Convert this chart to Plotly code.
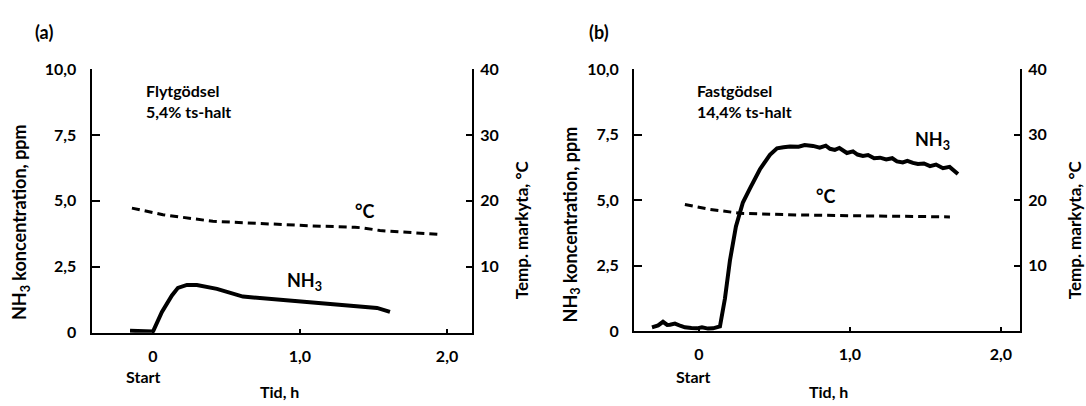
import plotly.graph_objects as go

# ---------------- data ----------------
# Panel (a) Flytgödsel
t_a_nh3 = [-0.156, -0.08, 0.0, 0.061, 0.129, 0.170, 0.231, 0.299, 0.435, 0.612, 0.844, 1.068, 1.293, 1.524, 1.612]
nh3_a   = [0.07, 0.06, 0.04, 0.79, 1.41, 1.70, 1.81, 1.81, 1.66, 1.37, 1.26, 1.16, 1.05, 0.94, 0.79]
t_a_temp = [-0.143, 0.068, 0.408, 0.748, 1.088, 1.374, 1.429, 1.544, 1.769, 1.952]
temp_a   = [18.9, 17.9, 16.9, 16.5, 16.2, 16.0, 15.9, 15.5, 15.2, 14.9]

# Panel (b) Fastgödsel
t_b_nh3 = [-0.311, -0.27, -0.238, -0.21, -0.192, -0.159, -0.12, -0.093, -0.05, -0.013, 0.020, 0.06,
           0.093, 0.139, 0.172, 0.205, 0.245, 0.291, 0.338, 0.404, 0.470, 0.517, 0.56, 0.603, 0.66,
           0.70, 0.755, 0.80, 0.84, 0.868, 0.90, 0.93, 0.98, 1.02, 1.05, 1.086, 1.12, 1.16, 1.199,
           1.24, 1.28, 1.311, 1.35, 1.38, 1.417, 1.45, 1.49, 1.530, 1.57, 1.616, 1.66, 1.69, 1.715]
nh3_b   = [0.15, 0.22, 0.36, 0.24, 0.25, 0.29, 0.20, 0.15, 0.12, 0.11, 0.15, 0.10,
           0.11, 0.18, 1.24, 2.69, 4.00, 4.91, 5.45, 6.18, 6.73, 6.98, 7.02, 7.05, 7.04,
           7.10, 7.07, 7.00, 7.08, 6.96, 6.92, 6.99, 6.80, 6.86, 6.74, 6.69, 6.72, 6.60, 6.62,
           6.55, 6.60, 6.48, 6.44, 6.50, 6.42, 6.38, 6.40, 6.30, 6.36, 6.22, 6.27, 6.12, 6.00]
t_b_temp = [-0.093, 0.073, 0.272, 0.649, 1.086, 1.662]
temp_b   = [19.35, 18.6, 18.0, 17.75, 17.6, 17.45]

# tick labels
x_tickvals = [0, 1, 2]
x_ticktext = ["0", "1,0", "2,0"]
yl_tickvals = [0, 2.5, 5, 7.5, 10]
yl_ticktext = ["0", "2,5", "5,0", "7,5", "10,0"]
yr_tickvals = [10, 20, 30, 40]
yr_ticktext = ["10", "20", "30", "40"]

W, H = 1086, 406
FONT = "Lato"
FS = 16
WEIGHT = "bold"


def px(x):
    return x / W


def py(y):
    return 1 - y / H


fig = go.Figure()

nh3_line = dict(color="black", width=4)
temp_line = dict(color="black", width=3, dash="8px,5px")

fig.add_trace(go.Scatter(x=t_a_nh3, y=nh3_a, mode="lines", line=nh3_line, xaxis="x", yaxis="y"))
fig.add_trace(go.Scatter(x=t_a_temp, y=temp_a, mode="lines", line=temp_line, xaxis="x", yaxis="y2"))
fig.add_trace(go.Scatter(x=t_b_nh3, y=nh3_b, mode="lines", line=nh3_line, xaxis="x2", yaxis="y3"))
fig.add_trace(go.Scatter(x=t_b_temp, y=temp_b, mode="lines", line=temp_line, xaxis="x2", yaxis="y4"))

axfont = dict(family=FONT, size=FS, color="black", weight=WEIGHT)

common_x = dict(showline=True, linecolor="black", linewidth=2, ticks="inside", ticklen=4,
                tickcolor="black", tickwidth=1.5, showgrid=False, zeroline=False,
                tickvals=x_tickvals, ticktext=x_ticktext, tickfont=axfont, ticklabelstandoff=8)
common_yl = dict(showline=True, linecolor="black", linewidth=2, ticks="inside", ticklen=8,
                 tickcolor="black", tickwidth=1.5, showgrid=False, zeroline=False, range=[0, 10],
                 tickvals=yl_tickvals, ticktext=yl_ticktext, tickfont=axfont, ticklabelstandoff=10)
common_yr = dict(showline=True, linecolor="black", linewidth=2, ticks="inside", ticklen=6,
                 tickcolor="black", tickwidth=1.5, showgrid=False, zeroline=False, range=[0, 40],
                 tickvals=yr_tickvals, ticktext=yr_ticktext, tickfont=axfont, side="right",
                 ticklabelstandoff=3)

ya_dom = [py(338.5), py(62)]
yb_dom = [py(337), py(62)]

fig.update_layout(
    width=W, height=H, margin=dict(l=0, r=0, t=0, b=0),
    paper_bgcolor="white", plot_bgcolor="white", showlegend=False,
    font=axfont,
    xaxis=dict(common_x, domain=[px(91.5), px(472)], range=[-0.418, 2.170], anchor="y"),
    yaxis=dict(common_yl, domain=ya_dom, anchor="x"),
    yaxis2=dict(common_yr, overlaying="y", anchor="x"),
    xaxis2=dict(common_x, domain=[px(634), px(1020)], range=[-0.430, 2.126], anchor="y3"),
    yaxis3=dict(common_yl, domain=yb_dom, anchor="x2"),
    yaxis4=dict(common_yr, overlaying="y3", anchor="x2"),
)

ann = []


def add(text, x, y, xanchor="center", yanchor="middle", angle=0, align="center", size=FS):
    ann.append(dict(text=text, x=px(x), y=py(y), xref="paper", yref="paper", showarrow=False,
                    xanchor=xanchor, yanchor=yanchor, textangle=angle, align=align,
                    font=dict(family=FONT, size=size, color="black", weight=WEIGHT)))


add("(a)", 44, 23, size=18)
add("(b)", 599, 23, size=18)
add("Flytgödsel<br>5,4% ts-halt", 144, 72, xanchor="left", yanchor="top", align="left")
add("Fastgödsel<br>14,4% ts-halt", 695, 72, xanchor="left", yanchor="top", align="left")
add("NH<sub>3</sub>", 285, 285, xanchor="left", size=18)
add("NH<sub>3</sub>", 913, 137, xanchor="left", size=18)
add("°C", 364, 211, size=18)
add("°C", 825, 195, size=18)
add("NH<sub>3</sub> koncentration, ppm", 20.5, 223, angle=-90, size=18)
add("NH<sub>3</sub> koncentration, ppm", 571, 225, angle=-90, size=18)
add("Temp. markyta, °C", 521, 231, angle=-90, size=17)
add("Temp. markyta, °C", 1074, 231, angle=-90, size=17)
add("Start", 143, 385)
add("Start", 693, 385)
add("Tid, h", 279, 400)
add("Tid, h", 828, 400)

fig.update_layout(annotations=ann)

fig.write_html("out.html")
